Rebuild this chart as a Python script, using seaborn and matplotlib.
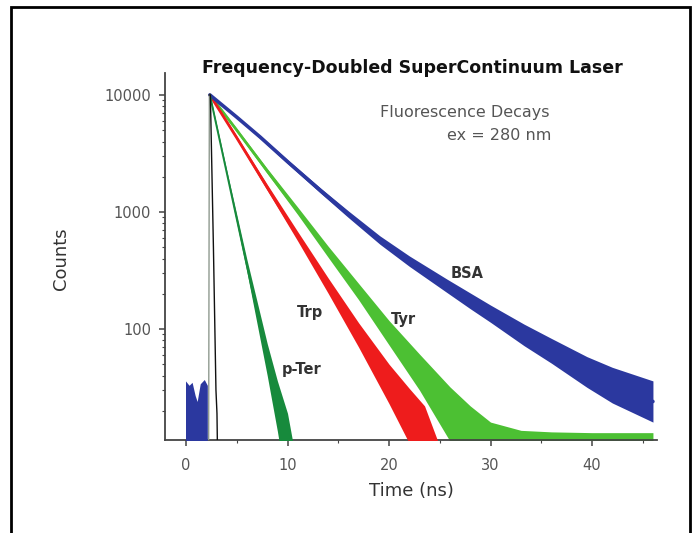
import numpy as np
import pandas as pd
import matplotlib
matplotlib.use("Agg")
import matplotlib.pyplot as plt
import seaborn as sns
from matplotlib.ticker import LogLocator, NullFormatter, MultipleLocator
from matplotlib.patches import Rectangle

# ---------------- data ----------------
# BSA (blue): centre line and noise envelope
bsa_t = [2.35, 5.0, 7.3, 10.0, 13.3, 16.0, 19.1, 22.0, 25.7, 28.0, 30.0, 33.3, 36.0, 39.5, 42.0, 46.0]
bsa_c = [10000, 6460, 4370, 2690, 1510, 955, 575, 380, 234, 174, 135, 89, 65, 43, 33, 24]
bsa_lo = [9800, 6300, 4240, 2590, 1435, 895, 530, 343, 205, 149, 114, 72, 51, 31.7, 23.3, 16]
bsa_hi = [10200, 6620, 4500, 2800, 1590, 1020, 625, 421, 267, 203, 160, 110, 83, 58, 47, 36]
# BSA background before the pulse
pre_t = [-0.05, 0.3, 0.6, 0.9, 1.1, 1.4, 1.8, 2.1]
pre_hi = [36, 33, 35, 27, 24, 34, 37, 33]

# Tyr (light green)
tyr_t = [2.35, 5.0, 8.0, 11.0, 14.0, 17.0, 20.0, 23.0, 26.0, 28.0, 30.0, 33.0, 36.0, 40.0, 43.0, 46.0]
tyr_c = [10000, 5000, 2240, 1020, 457, 209, 93, 43, 19, 11, 6.6, 3.0, 2.0, 1.5, 1.5, 1.5]
tyr_lo = [9770, 4840, 2130, 950, 410, 178, 73, 30, 11, 5.5, 2.7, 1.0, 1.0, 1.0, 1.0, 1.0]
tyr_hi = [10230, 5160, 2350, 1100, 510, 245, 118, 61, 32, 22, 16, 13.6, 13.2, 13.0, 13.0, 13.0]

# Trp (red)
trp_t = [2.35, 5.0, 8.0, 11.0, 14.0, 17.0, 20.0, 22.0, 23.5, 24.8]
trp_c = [10000, 4300, 1620, 620, 235, 89, 34, 18, 11, 6]
trp_lo = [9770, 4150, 1530, 565, 202, 70, 23, 10.5, 5.5, 1.0]
trp_hi = [10230, 4460, 1720, 680, 273, 113, 50, 31, 22, 11]

# p-Ter (dark green)
pter_t = [2.35, 4.0, 6.0, 8.0, 9.0, 10.0, 10.5]
pter_c = [10000, 2190, 347, 55, 22, 8.7, 5.5]
pter_lo = [9770, 2090, 307, 40, 13.4, 4.0, 1.0]
pter_hi = [10230, 2300, 392, 75, 36, 19, 11]

# rising edge of the decays (thin grey) and instrument response (black)
rise_t = [2.2, 2.3]
rise_c = [0.5, 10000]
irf_t = [2.3, 2.4, 2.7, 2.95, 3.05, 3.3]
irf_c = [10000, 10000, 500, 30, 19, 0.5]

labels = ["BSA", "Tyr", "Trp", "p-Ter"]
label_t = [27.7, 21.4, 12.2, 11.4]
label_c = [300, 120, 137, 45]

x_ticks = [0, 10, 20, 30, 40]
y_ticks = [100, 1000, 10000]
y_ticklabels = ["100", "1000", "10000"]

# ---------------- style ----------------
sns.set_theme(style="ticks")
plt.rcParams["font.family"] = ["DejaVu Sans"]

C_BSA = "#2b389f"
C_TYR = "#4cc033"
C_TRP = "#ee1c1c"
C_PTER = "#178a3c"
C_IRF = "#111111"
GRAY = "#555555"

fig = plt.figure(figsize=(6.97, 5.33), dpi=100)
ax = fig.add_axes([165 / 697, 1 - 440 / 533, 492 / 697, 367 / 533])


def draw(t, c, lo, hi, color, lw, order):
    df = pd.DataFrame({"t": t, "c": c})
    ax.fill_between(t, lo, hi, color=color, lw=0, zorder=order)
    sns.lineplot(data=df, x="t", y="c", ax=ax, color=color, lw=lw,
                 estimator=None, sort=False, zorder=order + 0.1)


draw(tyr_t, tyr_c, tyr_lo, tyr_hi, C_TYR, 2.0, 2)
draw(trp_t, trp_c, trp_lo, trp_hi, C_TRP, 2.0, 3)
draw(bsa_t, bsa_c, bsa_lo, bsa_hi, C_BSA, 2.6, 4)
ax.fill_between(pre_t, [0.5] * len(pre_t), pre_hi, color=C_BSA, lw=0, zorder=4)
draw(pter_t, pter_c, pter_lo, pter_hi, C_PTER, 1.4, 5)
sns.lineplot(data=pd.DataFrame({"t": rise_t, "c": rise_c}), x="t", y="c", ax=ax,
             color="#8f9a8f", lw=1.0, estimator=None, sort=False, zorder=5.5)
sns.lineplot(data=pd.DataFrame({"t": irf_t, "c": irf_c}), x="t", y="c", ax=ax,
             color=C_IRF, lw=1.0, estimator=None, sort=False, zorder=6)

ax.set_yscale("log")
ax.set_xlim(-2.07, 46.4)
ax.set_ylim(11.25, 15400)
ax.set_xticks(x_ticks)
ax.set_xticklabels([str(v) for v in x_ticks])
ax.xaxis.set_minor_locator(MultipleLocator(5))
ax.set_yticks(y_ticks)
ax.set_yticklabels(y_ticklabels)
ax.yaxis.set_minor_locator(LogLocator(base=10, subs=np.arange(2, 10)))
ax.yaxis.set_minor_formatter(NullFormatter())
ax.set_xlabel("")
ax.set_ylabel("")

for s in ["top", "right"]:
    ax.spines[s].set_visible(False)
for s in ["left", "bottom"]:
    ax.spines[s].set_color("#444444")
    ax.spines[s].set_linewidth(1.3)
ax.tick_params(which="major", direction="out", length=4, width=1.1, color="#444444",
               labelcolor=GRAY, labelsize=10.5)
ax.tick_params(axis="x", which="major", pad=9)
ax.tick_params(axis="y", which="major", pad=6)
ax.tick_params(which="minor", direction="out", length=2, width=0.8, color="#444444")

ax.set_xlabel("Time (ns)", fontsize=13, color="#333333")
ax.set_ylabel("Counts", fontsize=13, color="#333333")
ax.xaxis.set_label_coords((411 - 165) / 492, (440 - 482) / 367)
ax.yaxis.set_label_coords((70 - 165) / 492, (440 - 259) / 367)

for lab, lt, lc in zip(labels, label_t, label_c):
    ax.text(lt, lc, lab, fontsize=10.5, fontweight="bold", color="#333333",
            ha="center", va="center", zorder=10)

fig.text(412 / 697, 1 - 68 / 533, "Frequency-Doubled SuperContinuum Laser",
         fontsize=12.5, fontweight="bold", color="#111111", ha="center", va="center")
fig.text(549 / 697, 1 - 112 / 533, "Fluorescence Decays", fontsize=11.5,
         color=GRAY, ha="right", va="center")
fig.text(551 / 697, 1 - 135 / 533, "ex = 280 nm", fontsize=11.5,
         color=GRAY, ha="right", va="center")

fig.patches.append(Rectangle((11 / 697, -0.02), (690 - 11) / 697, 1 - 7 / 533 + 0.02,
                             transform=fig.transFigure, fill=False, lw=2.0,
                             edgecolor="black", clip_on=False))

fig.savefig("out.png", dpi=100)
